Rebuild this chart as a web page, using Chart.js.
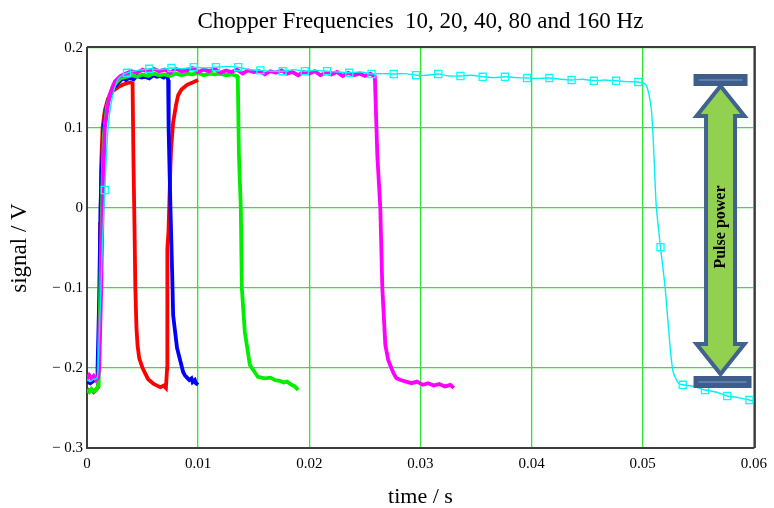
<!DOCTYPE html>
<html>
<head>
<meta charset="utf-8">
<script src="https://cdn.jsdelivr.net/npm/chart.js@4/dist/chart.umd.min.js"></script>
<style>
  html, body { margin: 0; padding: 0; background: #fff; }
  #chopper { display: block; }
</style>
</head>
<body>
<canvas id="chopper" width="774" height="508"></canvas>
<script>
// 160 Hz pulse (red)
const redTime = [0, 0.0002, 0.0004, 0.0006, 0.0008, 0.001,
    0.00112, 0.00118, 0.00125, 0.0014, 0.0016, 0.0019, 0.0023, 0.0028, 0.0032, 0.0036, 0.0039, 0.0041,
    0.00418, 0.00428, 0.00435, 0.00445, 0.00455, 0.0047, 0.005, 0.0055, 0.006, 0.0063, 0.0066, 0.0069, 0.0071,
    0.00721, 0.00723, 0.00733, 0.0075, 0.00757, 0.00775, 0.008, 0.0082, 0.0085, 0.009, 0.0095, 0.01];
const redSignal = [-0.226, -0.229, -0.227, -0.23, -0.227, -0.224,
    -0.12, -0.02, 0.045, 0.1, 0.122, 0.137, 0.146, 0.151, 0.154, 0.156, 0.157, 0.156,
    0.06, -0.03, -0.1, -0.15, -0.172, -0.188, -0.2, -0.214, -0.22, -0.222, -0.224, -0.222, -0.225,
    -0.2, -0.05, -0.03, 0.05, 0.075, 0.107, 0.128, 0.141, 0.148, 0.154, 0.157, 0.16];

// 80 Hz (blue)
const blueTime = [0, 0.0003, 0.0006, 0.0009, 0.00095, 0.00112, 0.00121, 0.00148, 0.0018, 0.0024,
    0.0032, 0.0035, 0.0038, 0.0042, 0.0045, 0.0049, 0.0052, 0.0056, 0.006, 0.0063, 0.0066, 0.0069, 0.0072,
    0.0073, 0.00735, 0.0075, 0.00766, 0.00775, 0.0081, 0.00865,
    0.0088, 0.009, 0.0092, 0.0094, 0.0095, 0.0097, 0.0098, 0.01];
const blueSignal = [-0.217, -0.219, -0.216, -0.214, -0.2, -0.1, 0, 0.1, 0.13, 0.15,
    0.162, 0.16, 0.163, 0.161, 0.165, 0.163, 0.164, 0.162, 0.166, 0.164, 0.165, 0.163, 0.166,
    0.16, 0.095, 0.004, -0.08, -0.134, -0.175, -0.205,
    -0.209, -0.212, -0.215, -0.213, -0.2175, -0.215, -0.219, -0.221];

// 40 Hz (green)
const greenTime = [0, 0.0002, 0.0004, 0.0006, 0.0008, 0.001,
    0.00105, 0.0012, 0.00135, 0.0015, 0.0018, 0.0023, 0.003,
    0.0035, 0.004, 0.0045, 0.005, 0.0055, 0.006, 0.0065, 0.007, 0.0075, 0.008, 0.0085,
    0.009, 0.0095, 0.01, 0.0105, 0.011, 0.0115, 0.012, 0.0125, 0.013, 0.0135,
    0.01357, 0.01367, 0.01384, 0.01393, 0.0142, 0.01465, 0.01537,
    0.016, 0.0165, 0.0169, 0.0173, 0.0177, 0.018, 0.0184, 0.0187, 0.019];
const greenSignal = [-0.227, -0.23, -0.226, -0.229, -0.228, -0.222,
    -0.2, -0.1, 0, 0.09, 0.128, 0.152, 0.162,
    0.164, 0.166, 0.164, 0.167, 0.165, 0.168, 0.166, 0.167, 0.165, 0.168, 0.166,
    0.168, 0.167, 0.169, 0.166, 0.168, 0.167, 0.168, 0.166, 0.167, 0.165,
    0.16, 0.066, 0, -0.1, -0.155, -0.196, -0.211,
    -0.213, -0.212, -0.215, -0.216, -0.218, -0.217, -0.221, -0.223, -0.2275];

// 20 Hz (magenta)
const magentaTime = [0, 0.0002, 0.0004, 0.0006, 0.0008, 0.001,
    0.0011, 0.00128, 0.0014, 0.0016, 0.002, 0.0025, 0.003, 0.0035,
    0.004, 0.0045, 0.005, 0.0055, 0.006, 0.0065, 0.007, 0.0075, 0.008, 0.0085,
    0.009, 0.0095, 0.01, 0.0105, 0.011, 0.0115, 0.012, 0.0125, 0.013, 0.0135,
    0.014, 0.0145, 0.015, 0.0155, 0.016, 0.0165, 0.017, 0.0175, 0.018, 0.0185,
    0.019, 0.0195, 0.02, 0.0205, 0.021, 0.0215, 0.022, 0.0225, 0.023, 0.0235,
    0.024, 0.0245, 0.025, 0.0255,
    0.0259, 0.02612, 0.02639, 0.02657, 0.02684, 0.0271, 0.02738, 0.0276, 0.02783,
    0.0282, 0.0287, 0.0292, 0.0297, 0.0302, 0.0307, 0.0312, 0.0317, 0.0322, 0.0327, 0.033];
const magentaSignal = [-0.214, -0.209, -0.213, -0.21, -0.215, -0.212,
    -0.2, -0.1, 0, 0.1, 0.14, 0.158, 0.165, 0.168,
    0.171, 0.169, 0.173, 0.17, 0.174, 0.171, 0.173, 0.169, 0.174, 0.171,
    0.172, 0.175, 0.17, 0.173, 0.171, 0.174, 0.169, 0.172, 0.17, 0.173,
    0.168, 0.172, 0.17, 0.171, 0.167, 0.171, 0.169, 0.172, 0.168, 0.17,
    0.166, 0.17, 0.168, 0.171, 0.166, 0.169, 0.167, 0.17, 0.165, 0.169,
    0.166, 0.168, 0.165, 0.168,
    0.164, 0.066, 0, -0.1, -0.171, -0.19, -0.2, -0.207, -0.2125,
    -0.215, -0.217, -0.219, -0.217, -0.221, -0.219, -0.222, -0.22, -0.223, -0.221, -0.225];

// 10 Hz (cyan, thin line with markers)
const cyanTime = [0, 0.0003, 0.0006, 0.0009, 0.001, 0.0012, 0.0014, 0.0016, 0.0018, 0.002, 0.0023, 0.0027, 0.003, 0.0036,
    0.0046, 0.0056, 0.0066, 0.0076, 0.0086, 0.0096, 0.0106, 0.0116, 0.0126, 0.0136,
    0.0146, 0.0156, 0.0166, 0.0176, 0.0186, 0.0196, 0.0206, 0.0216, 0.0226, 0.0236,
    0.0246, 0.0256, 0.0266, 0.0276, 0.0286, 0.0296, 0.0306, 0.0316, 0.0326, 0.0336,
    0.0346, 0.0356, 0.0366, 0.0376, 0.0386, 0.0396, 0.0406, 0.0416, 0.0426, 0.0436,
    0.0446, 0.0456, 0.0466, 0.0476, 0.0486, 0.0496,
    0.0503, 0.05076, 0.05094, 0.05121, 0.0516, 0.05202, 0.05247, 0.05274, 0.0532,
    0.0536, 0.0546, 0.0556, 0.0566, 0.0576, 0.0586, 0.0596, 0.06];
const cyanSignal = [-0.215, -0.217, -0.214, -0.213, -0.2, -0.12, -0.04, 0.0225, 0.08, 0.115, 0.14, 0.158, 0.164, 0.169,
    0.172, 0.174, 0.173, 0.175, 0.174, 0.176, 0.175, 0.176, 0.177, 0.176,
    0.173, 0.172, 0.171, 0.171, 0.173, 0.171, 0.172, 0.171, 0.17, 0.169,
    0.17, 0.1675, 0.168, 0.1675, 0.168, 0.166, 0.166, 0.1675, 0.165, 0.165,
    0.166, 0.164, 0.163, 0.164, 0.163, 0.1625, 0.162, 0.1625, 0.161, 0.16,
    0.161, 0.159, 0.16, 0.159, 0.158, 0.1575,
    0.154, 0.125, 0.0875, 0.004, -0.049, -0.1, -0.175, -0.205, -0.219,
    -0.221, -0.223, -0.2275, -0.23, -0.235, -0.237, -0.24, -0.241];
const cyanMarkerTime = [0.0016, 0.0036, 0.0056, 0.0076, 0.0096, 0.0116, 0.0136, 0.0156, 0.0176, 0.0196,
    0.0216, 0.0236, 0.0256, 0.0276, 0.0296, 0.0316, 0.0336, 0.0356, 0.0376, 0.0396,
    0.0416, 0.0436, 0.0456, 0.0476, 0.0496, 0.0516, 0.0536, 0.0556, 0.0576, 0.0596];
const cyanMarkerSignal = [0.0225, 0.169, 0.174, 0.175, 0.176, 0.176, 0.176, 0.172, 0.171, 0.171,
    0.171, 0.169, 0.1675, 0.1675, 0.166, 0.1675, 0.165, 0.164, 0.164, 0.1625,
    0.1625, 0.16, 0.159, 0.159, 0.1575, -0.049, -0.221, -0.2275, -0.235, -0.24];

const yTicks = [-0.3, -0.2, -0.1, 0, 0.1, 0.2];
const xTicks = [0, 0.01, 0.02, 0.03, 0.04, 0.05, 0.06];

// annotation arrow (data units)
const arrowTime = 0.057;
const arrowTopSignal = 0.1525;
const arrowBottomSignal = -0.2075;

function toPoints(ts, vs) {
    return ts.map((t, i) => ({ x: t, y: vs[i] }));
}

const serif = "'Liberation Serif', 'Times New Roman', serif";

const framePlugin = {
    id: 'frame',
    afterDatasetsDraw(chart) {
        const { ctx, chartArea: a, scales } = chart;
        ctx.save();
        ctx.strokeStyle = '#3c3c3c';
        ctx.lineWidth = 2;
        ctx.beginPath();
        ctx.moveTo(a.left, a.top - 1);
        ctx.lineTo(a.right + 1, a.top - 1);
        ctx.lineTo(a.right + 1, a.bottom);
        ctx.stroke();

        // Pulse power arrow
        const cx = scales.x.getPixelForValue(arrowTime);
        const top = scales.y.getPixelForValue(arrowTopSignal);
        const bot = scales.y.getPixelForValue(arrowBottomSignal);
        const headLen = 30, headHalf = 24, shaftHalf = 14.5;
        ctx.beginPath();
        ctx.moveTo(cx, top);
        ctx.lineTo(cx + headHalf, top + headLen);
        ctx.lineTo(cx + shaftHalf, top + headLen);
        ctx.lineTo(cx + shaftHalf, bot - headLen);
        ctx.lineTo(cx + headHalf, bot - headLen);
        ctx.lineTo(cx, bot);
        ctx.lineTo(cx - headHalf, bot - headLen);
        ctx.lineTo(cx - shaftHalf, bot - headLen);
        ctx.lineTo(cx - shaftHalf, top + headLen);
        ctx.lineTo(cx - headHalf, top + headLen);
        ctx.closePath();
        ctx.fillStyle = '#92d050';
        ctx.fill();
        ctx.lineJoin = 'miter';
        ctx.lineWidth = 4;
        ctx.strokeStyle = '#41618f';
        ctx.stroke();

        // end bars
        ctx.fillStyle = '#3f5d8a';
        ctx.fillRect(cx - 27, top - 12, 54, 12);
        ctx.fillRect(cx - 27, bot + 2, 58, 12);
        ctx.strokeStyle = '#7f9fd0';
        ctx.lineWidth = 1.2;
        ctx.beginPath();
        ctx.moveTo(cx - 22, top - 6);
        ctx.lineTo(cx + 22, top - 6);
        ctx.moveTo(cx - 22, bot + 8);
        ctx.lineTo(cx + 26, bot + 8);
        ctx.stroke();

        ctx.translate(cx, (top + bot) / 2 - 3);
        ctx.rotate(-Math.PI / 2);
        ctx.fillStyle = '#000';
        ctx.font = "bold 16px " + serif;
        ctx.textAlign = 'center';
        ctx.textBaseline = 'middle';
        ctx.fillText('Pulse power', 0, 0);
        ctx.restore();
    }
};

function lineSet(label, ts, vs, color, width) {
    return {
        label: label,
        data: toPoints(ts, vs),
        borderColor: color,
        borderWidth: width,
        pointRadius: 0,
        fill: false,
        tension: 0
    };
}

const ctx = document.getElementById('chopper').getContext('2d');
new Chart(ctx, {
    type: 'line',
    data: {
        datasets: [
            {
                label: '10 Hz markers',
                data: toPoints(cyanMarkerTime, cyanMarkerSignal),
                showLine: false,
                pointStyle: 'rect',
                pointRadius: 5,
                pointBorderWidth: 1.3,
                pointBorderColor: '#00ffff',
                pointBackgroundColor: 'rgba(0,0,0,0)'
            },
            Object.assign(lineSet('10 Hz', cyanTime, cyanSignal, '#00f0f0', 1.4), { tension: 0.2 }),
            lineSet('20 Hz', magentaTime, magentaSignal, '#ff00ff', 3.8),
            lineSet('40 Hz', greenTime, greenSignal, '#00ee00', 3.8),
            lineSet('80 Hz', blueTime, blueSignal, '#0000ff', 3.8),
            lineSet('160 Hz', redTime, redSignal, '#ff0000', 3.8)
        ]
    },
    options: {
        responsive: false,
        animation: false,
        devicePixelRatio: 1,
        layout: { padding: { left: 0, right: 18, top: 0, bottom: 0 } },
        plugins: {
            legend: { display: false },
            tooltip: { enabled: false },
            title: {
                display: true,
                fullSize: false,
                text: 'Chopper Frequencies  10, 20, 40, 80 and 160 Hz',
                color: '#000',
                font: { family: serif, size: 23, weight: 'normal', lineHeight: 1.2 },
                padding: { top: 8, bottom: 12.4 }
            }
        },
        scales: {
            x: {
                type: 'linear',
                min: 0,
                max: 0.06,
                afterFit(scale) { scale.height = 60; },
                afterBuildTicks(scale) { scale.ticks = xTicks.map(v => ({ value: v })); },
                ticks: {
                    autoSkip: false,
                    maxRotation: 0,
                    padding: 7,
                    color: '#000',
                    font: { family: serif, size: 15 },
                    callback: v => String(Math.round(v * 100) / 100)
                },
                grid: { color: '#2ee62e', lineWidth: 1.3, drawTicks: false },
                border: { display: true, color: '#3c3c3c', width: 2 },
                title: {
                    display: true,
                    text: 'time / s',
                    color: '#000',
                    font: { family: serif, size: 22, lineHeight: 1 },
                    padding: 0
                }
            },
            y: {
                type: 'linear',
                min: -0.3,
                max: 0.2,
                afterFit(scale) { scale.width = 87; },
                afterBuildTicks(scale) { scale.ticks = yTicks.map(v => ({ value: v })); },
                ticks: {
                    autoSkip: false,
                    padding: 4,
                    color: '#000',
                    font: { family: serif, size: 15 },
                    callback: v => {
                        const r = Math.round(v * 10) / 10;
                        return r < 0 ? '\u2212 ' + Math.abs(r) : String(r);
                    }
                },
                grid: { color: '#2ee62e', lineWidth: 1.3, drawTicks: false },
                border: { display: true, color: '#3c3c3c', width: 2 },
                title: {
                    display: true,
                    text: 'signal / V',
                    color: '#000',
                    font: { family: serif, size: 23, lineHeight: 1 },
                    padding: { top: 8, bottom: 0 }
                }
            }
        }
    },
    plugins: [framePlugin]
});
</script>
</body>
</html>
